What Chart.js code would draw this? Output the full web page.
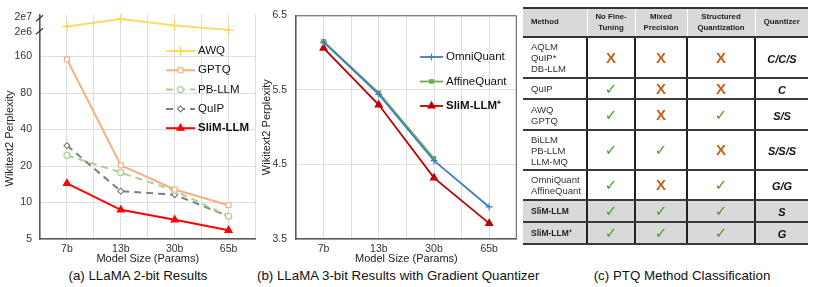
<!DOCTYPE html>
<html>
<head>
<meta charset="utf-8">
<script src="https://cdn.jsdelivr.net/npm/chart.js@4.4.1/dist/chart.umd.min.js"></script>
<style>
  body { margin: 0; width: 830px; height: 287px; background: #fff; position: relative; overflow: hidden;
         font-family: "Liberation Sans", Arial, sans-serif; color: #222; }
  .box { position: absolute; }
  .cap { position: absolute; top: 268px; font-size: 13.3px; color: #111; text-align: center; white-space: nowrap; }
  #ptq { position: absolute; left: 523px; top: 7px; border-collapse: collapse; table-layout: fixed; width: 285px; }
  #ptq th { background: #d9d9d9; font-size: 7.8px; font-weight: bold; color: #222; line-height: 10.5px;
            border-top: 2px solid #333; border-bottom: 2px solid #333; border-left: 1px solid #fff; padding: 0; height: 27px; }
  #ptq th:first-child { text-align: left; padding-left: 8px; border-left: none; }
  #ptq td { border-bottom: 2px solid #3a3a3a; border-left: 2px solid #222; padding: 0; text-align: center; }
  #ptq td:first-child { border-left: none; text-align: left; padding-left: 8px; font-size: 9.5px; line-height: 11px; color: #333; }
  #ptq tr.hl td { background: #d9d9d9; }
  #ptq tr.hl td:first-child { font-weight: bold; font-size: 8.5px; color: #222; }
  .ok { color: #4e9a2e; font-family: "DejaVu Sans"; font-size: 15px; }
  .no { color: #c8601a; font-family: "Liberation Sans"; font-weight: bold; font-size: 15px; }
  .qz { font-weight: bold; font-style: italic; font-size: 11px; color: #111; }
</style>
</head>
<body>
<div class="box" style="left:0;top:0;width:262px;height:266px"><canvas id="chartA"></canvas></div>
<div class="box" style="left:250px;top:0;width:272px;height:266px"><canvas id="chartB"></canvas></div>
<div class="cap" style="left:38px;width:200px">(a) LLaMA 2-bit Results</div>
<div class="cap" style="left:257px;width:260px">(b) LLaMA 3-bit Results with Gradient Quantizer</div>
<div class="cap" style="left:582px;width:200px">(c) PTQ Method Classification</div>
<table id="ptq"></table>
<script>
const sizes = ['7b', '13b', '30b', '65b'];

// (a) LLaMA 2-bit, wikitext2 perplexity
const awqA = [4.8e6, 1.55e7, 5.6e6, 2.8e6];
const gptqA = [152, 20.3, 12.8, 9.5];
const pbllmA = [24.5, 17.7, 12.5, 7.7];
const quipA = [29.5, 12.4, 11.6, 7.7];
const slimA = [14.4, 8.7, 7.2, 5.9];
const lowTicksA = [5, 10, 20, 40, 80, 160];
const highTicksA = [2e6, 2e7];

// (b) LLaMA 3-bit with gradient quantizer
const omniB = [6.14, 5.44, 4.55, 3.93];
const affineB = [6.15, 5.46, 4.58, null];
const slimB = [6.06, 5.30, 4.32, 3.71];
const ticksB = [3.5, 4.5, 5.5, 6.5];

// (c) table
const tableMethods = [['AQLM', 'QuIP*', 'DB-LLM'], ['QuIP'], ['AWQ', 'GPTQ'], ['BiLLM', 'PB-LLM', 'LLM-MQ'],
  ['OmniQuant', 'AffineQuant'], ['SliM-LLM'], ['SliM-LLM⁺']];
const noFineTuning = [0, 1, 1, 1, 1, 1, 1];
const mixedPrecision = [0, 0, 0, 1, 0, 1, 1];
const structuredQuant = [0, 0, 1, 0, 1, 1, 1];
const quantizerType = ['C/C/S', 'C', 'S/S', 'S/S/S', 'G/G', 'S', 'G'];
const tableHeaders = ['Method', 'No Fine-<br>Tuning', 'Mixed<br>Precision', 'Structured<br>Quantization', 'Quantizer'];
const colWidths = [64, 48, 52, 68, 53];
const rowHeights = [41, 21, 31, 40, 30, 22, 22];

const xy = arr => arr.map((v, i) => ({ x: i, y: v }));
const tickFont = { family: 'Liberation Sans', size: 10.5 };
const gridColor = '#dedede';
const axisColor = '#595959';

const inLegend = {
  id: 'inLegend',
  afterDraw(chart, args, o) {
    const ctx = chart.ctx;
    chart.data.datasets.forEach((ds, i) => {
      const y = o.y + i * o.gap;
      ctx.save();
      ctx.strokeStyle = ds.borderColor;
      ctx.lineWidth = ds.borderWidth;
      ctx.setLineDash(ds.borderDash || []);
      ctx.beginPath();
      ctx.moveTo(o.x, y);
      ctx.lineTo(o.x + o.w, y);
      ctx.stroke();
      ctx.setLineDash([]);
      ctx.fillStyle = ds.pointBackgroundColor;
      ctx.lineWidth = ds.pointBorderWidth;
      Chart.helpers.drawPoint(ctx, { pointStyle: ds.pointStyle, radius: ds.pointRadius, rotation: 0, borderWidth: ds.pointBorderWidth }, o.x + o.w / 2, y);
      ctx.fillStyle = '#111';
      ctx.font = (ds.bold ? 'bold ' : '') + '11.5px "Liberation Sans"';
      ctx.textBaseline = 'middle';
      ctx.fillText(ds.label, o.x + o.w + 3, y);
      ctx.restore();
    });
  }
};

const boxBorder = {
  id: 'boxBorder',
  afterDraw(chart, args, o) {
    const a = chart.chartArea, ctx = chart.ctx;
    ctx.save();
    if (o.box) {
      ctx.strokeStyle = axisColor;
      ctx.lineWidth = 1;
      ctx.beginPath();
      ctx.moveTo(a.left, a.top + 0.5);
      ctx.lineTo(a.right - 0.5, a.top + 0.5);
      ctx.lineTo(a.right - 0.5, a.bottom);
      ctx.stroke();
    }
    if (o.breakMark) {
      // broken-axis marks on the left axis
      ctx.strokeStyle = '#333';
      ctx.lineWidth = 1.2;
      [a.top + 4, a.top + 17].forEach(y => {
        ctx.beginPath();
        ctx.moveTo(a.left - 4, y + 3);
        ctx.lineTo(a.left + 3, y - 3);
        ctx.stroke();
      });
    }
    ctx.restore();
  }
};

const xScale = {
  type: 'linear', min: -0.5, max: 3.5,
  ticks: { stepSize: 0.5, autoSkip: false, maxRotation: 0, padding: 4, font: tickFont, color: '#333',
           callback: v => Number.isInteger(v) ? sizes[v] : '' },
  grid: { color: gridColor, drawTicks: false },
  border: { color: axisColor, width: 1.5 },
  title: { display: true, text: 'Model Size (Params)', font: { family: 'Liberation Sans', size: 11 }, color: '#222', padding: { top: 0, bottom: 0 } },
  afterFit: s => { s.height = 27; }
};

function lineDs(label, data, color, style, radius, opts) {
  return Object.assign({
    label: label, data: xy(data), borderColor: color, backgroundColor: color,
    pointBackgroundColor: '#fff', pointBorderColor: color, pointBorderWidth: 1.2,
    pointStyle: style, pointRadius: radius, borderWidth: 2, tension: 0, spanGaps: false
  }, opts || {});
}

new Chart(document.getElementById('chartA'), {
  type: 'line',
  data: {
    datasets: [
      lineDs('AWQ', awqA, '#ffd966', 'cross', 5, { yAxisID: 'yTop', pointBorderWidth: 1.5 }),
      lineDs('GPTQ', gptqA, '#f4b183', 'rect', 3.5),
      lineDs('PB-LLM', pbllmA, '#a9d18e', 'circle', 3, { borderDash: [7, 5] }),
      lineDs('QuIP', quipA, '#7f7f7f', 'rectRot', 3, { borderDash: [7, 5] }),
      lineDs('SliM-LLM', slimA, '#ff0000', 'triangle', 4, { pointBackgroundColor: '#ff0000', bold: true })
    ]
  },
  options: {
    responsive: true, maintainAspectRatio: false, animation: false,
    layout: { padding: { top: 11, right: 4, left: 0, bottom: 0 } },
    plugins: { legend: { display: false }, tooltip: { enabled: false },
               inLegend: { x: 166, y: 51, gap: 19.3, w: 29 }, boxBorder: { breakMark: true } },
    scales: {
      x: xScale,
      y: {
        type: 'logarithmic', stack: 'a', stackWeight: 204, min: 5, max: 228,
        afterBuildTicks: s => { s.ticks = lowTicksA.map(v => ({ value: v })); },
        ticks: { font: tickFont, color: '#333', padding: 8, autoSkip: false, callback: v => String(v) },
        grid: { color: gridColor, drawTicks: false },
        border: { color: axisColor, width: 1.5 },
        title: { display: true, text: 'Wikitext2 Perplexity', font: { family: 'Liberation Sans', size: 11 }, color: '#222', padding: { top: 3, bottom: 0 } },
        afterFit: s => { s.width = 40; }
      },
      yTop: {
        type: 'logarithmic', position: 'left', stack: 'a', stackWeight: 24, min: 7.96e5, max: 3.17e7,
        afterBuildTicks: s => { s.ticks = highTicksA.map(v => ({ value: v })); },
        ticks: { font: tickFont, color: '#333', padding: 8, autoSkip: false, callback: v => v >= 1e7 ? '2e7' : '2e6' },
        grid: { display: false, drawTicks: false },
        border: { color: axisColor, width: 1.5 },
        afterFit: s => { s.width = 40; }
      }
    }
  },
  plugins: [inLegend, boxBorder]
});

new Chart(document.getElementById('chartB'), {
  type: 'line',
  data: {
    datasets: [
      lineDs('OmniQuant', omniB, '#3f7fc2', 'cross', 3.5, { pointBackgroundColor: '#3f7fc2', borderWidth: 1.8 }),
      lineDs('AffineQuant', affineB, '#70ad47', 'rect', 2.5, { pointBackgroundColor: '#70ad47', borderWidth: 1.8 }),
      lineDs('SliM-LLM⁺', slimB, '#c00000', 'triangle', 4, { pointBackgroundColor: '#c00000', borderWidth: 1.8, bold: true })
    ]
  },
  options: {
    responsive: true, maintainAspectRatio: false, animation: false,
    layout: { padding: { top: 11, right: 4, left: 0, bottom: 0 } },
    plugins: { legend: { display: false }, tooltip: { enabled: false },
               inLegend: { x: 170, y: 57, gap: 24.5, w: 23 }, boxBorder: { box: true } },
    scales: {
      x: xScale,
      y: {
        type: 'linear', min: 3.5, max: 6.5,
        afterBuildTicks: s => { s.ticks = ticksB.map(v => ({ value: v })); },
        ticks: { font: tickFont, color: '#333', padding: 9, callback: v => v.toFixed(1) },
        grid: { color: gridColor, drawTicks: false },
        border: { color: axisColor, width: 1.5 },
        title: { display: true, text: 'Wikitext2 Perplexity', font: { family: 'Liberation Sans', size: 11 }, color: '#222', padding: { top: 10, bottom: 0 } },
        afterFit: s => { s.width = 46; }
      }
    }
  },
  plugins: [inLegend, boxBorder]
});

// (c) table built from the arrays
const tbl = document.getElementById('ptq');
const cg = document.createElement('colgroup');
colWidths.forEach(w => { const c = document.createElement('col'); c.style.width = w + 'px'; cg.appendChild(c); });
tbl.appendChild(cg);
const hr = document.createElement('tr');
tableHeaders.forEach(h => { const th = document.createElement('th'); th.innerHTML = h; hr.appendChild(th); });
tbl.appendChild(hr);
const mark = f => f ? '<span class="ok">✓</span>' : '<span class="no">X</span>';
tableMethods.forEach((m, i) => {
  const tr = document.createElement('tr');
  if (i >= 5) tr.className = 'hl';
  tr.style.height = rowHeights[i] + 'px';
  const cells = [m.join('<br>'), mark(noFineTuning[i]), mark(mixedPrecision[i]), mark(structuredQuant[i]),
                 '<span class="qz">' + quantizerType[i] + '</span>'];
  cells.forEach(c => { const td = document.createElement('td'); td.innerHTML = c; tr.appendChild(td); });
  tbl.appendChild(tr);
});
</script>
</body>
</html>
